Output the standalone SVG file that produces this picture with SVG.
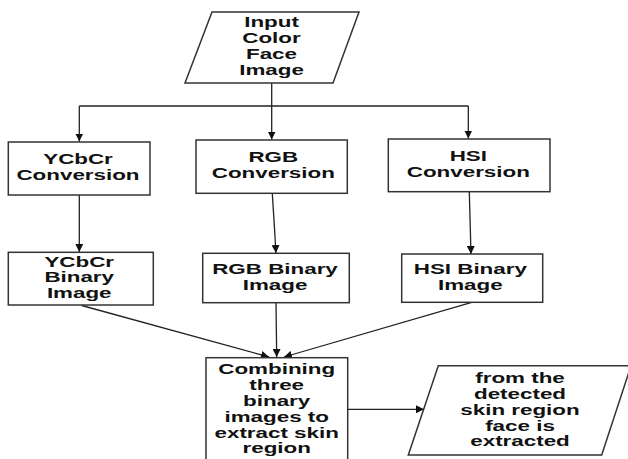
<svg xmlns="http://www.w3.org/2000/svg" width="628" height="459" viewBox="0 0 628 459">
<style>
.box{fill:#fff;stroke:#333;stroke-width:1.5}
.ln{fill:none;stroke:#222;stroke-width:1.3}
.t{font-family:"Liberation Sans",Arial,sans-serif;font-weight:bold;font-size:14px;fill:#111;text-anchor:middle}
</style>
<defs>
<marker id="ah" viewBox="0 0 10 10" refX="10" refY="5" markerWidth="8" markerHeight="8" markerUnits="userSpaceOnUse" orient="auto">
<path d="M0,0 L10,5 L0,10 z" fill="#111"/>
</marker>
</defs>
<rect width="628" height="459" fill="#fff"/>
<g id="connectors">
<path class="ln" d="M271.7,83 V106"/>
<path class="ln" d="M79.3,106 H468.3"/>
<path class="ln" d="M79.3,106 V141.5" marker-end="url(#ah)"/>
<path class="ln" d="M271.7,106 V139.5" marker-end="url(#ah)"/>
<path class="ln" d="M468.3,106 V138.5" marker-end="url(#ah)"/>
<path class="ln" d="M79.3,195 V252" marker-end="url(#ah)"/>
<path class="ln" d="M272.3,193.3 L276,253" marker-end="url(#ah)"/>
<path class="ln" d="M469.3,191.7 L471,254" marker-end="url(#ah)"/>
<path class="ln" d="M81.7,305.5 L269,357" marker-end="url(#ah)"/>
<path class="ln" d="M276,302.7 L276.7,357" marker-end="url(#ah)"/>
<path class="ln" d="M471.7,302.3 L284,357" marker-end="url(#ah)"/>
<path class="ln" d="M347.7,409.3 H424" marker-end="url(#ah)"/>
</g>
<g id="input">
<polygon class="box" points="212,12 359,12 333,83 185,83"/>
<text class="t" transform="translate(271.5 0) scale(1.6 1)"><tspan x="0" y="27.5">Input</tspan><tspan x="0" y="43.5">Color</tspan><tspan x="0" y="59">Face</tspan><tspan x="0" y="75">Image</tspan></text>
</g>
<g id="ycbcr-conv">
<rect class="box" x="8.3" y="142" width="141.7" height="53"/>
<text class="t" transform="translate(78 0) scale(1.6 1)"><tspan x="0" y="164.5">YCbCr</tspan><tspan x="0" y="180.3">Conversion</tspan></text>
</g>
<g id="rgb-conv">
<rect class="box" x="196" y="140" width="151.3" height="53.3"/>
<text class="t" transform="translate(273.3 0) scale(1.6 1)"><tspan x="0" y="162.5">RGB</tspan><tspan x="0" y="178.5">Conversion</tspan></text>
</g>
<g id="hsi-conv">
<rect class="box" x="388.3" y="139" width="161.7" height="52.7"/>
<text class="t" transform="translate(468.3 0) scale(1.6 1)"><tspan x="0" y="161.2">HSI</tspan><tspan x="0" y="177.5">Conversion</tspan></text>
</g>
<g id="ycbcr-bin">
<rect class="box" x="8.3" y="252.3" width="145" height="52.7"/>
<text class="t" transform="translate(79.2 0) scale(1.6 1)"><tspan x="0" y="267">YCbCr</tspan><tspan x="0" y="282.5">Binary</tspan><tspan x="0" y="298.5">Image</tspan></text>
</g>
<g id="rgb-bin">
<rect class="box" x="202.7" y="253.3" width="146.6" height="49.4"/>
<text class="t" transform="translate(275 0) scale(1.6 1)"><tspan x="0" y="274.5">RGB Binary</tspan><tspan x="0" y="289.8">Image</tspan></text>
</g>
<g id="hsi-bin">
<rect class="box" x="401.7" y="254" width="141" height="48.3"/>
<text class="t" transform="translate(470.3 0) scale(1.6 1)"><tspan x="0" y="274.5">HSI Binary</tspan><tspan x="0" y="289.8">Image</tspan></text>
</g>
<g id="combine">
<rect class="box" x="206" y="357.7" width="141.7" height="115"/>
<text class="t" transform="translate(276.7 0) scale(1.6 1)"><tspan x="0" y="374.5">Combining</tspan><tspan x="0" y="390.3">three</tspan><tspan x="0" y="406.3">binary</tspan><tspan x="0" y="422.5">images to</tspan><tspan x="0" y="438.5">extract skin</tspan><tspan x="0" y="453.5">region</tspan></text>
</g>
<g id="output">
<polygon class="box" points="438.3,365.7 631,365.7 601.7,455 408.3,455"/>
<text class="t" transform="translate(520 0) scale(1.6 1)"><tspan x="0" y="383.5">from the</tspan><tspan x="0" y="399.2">detected</tspan><tspan x="0" y="415.2">skin region</tspan><tspan x="0" y="431.2">face is</tspan><tspan x="0" y="446">extracted</tspan></text>
</g>
</svg>
